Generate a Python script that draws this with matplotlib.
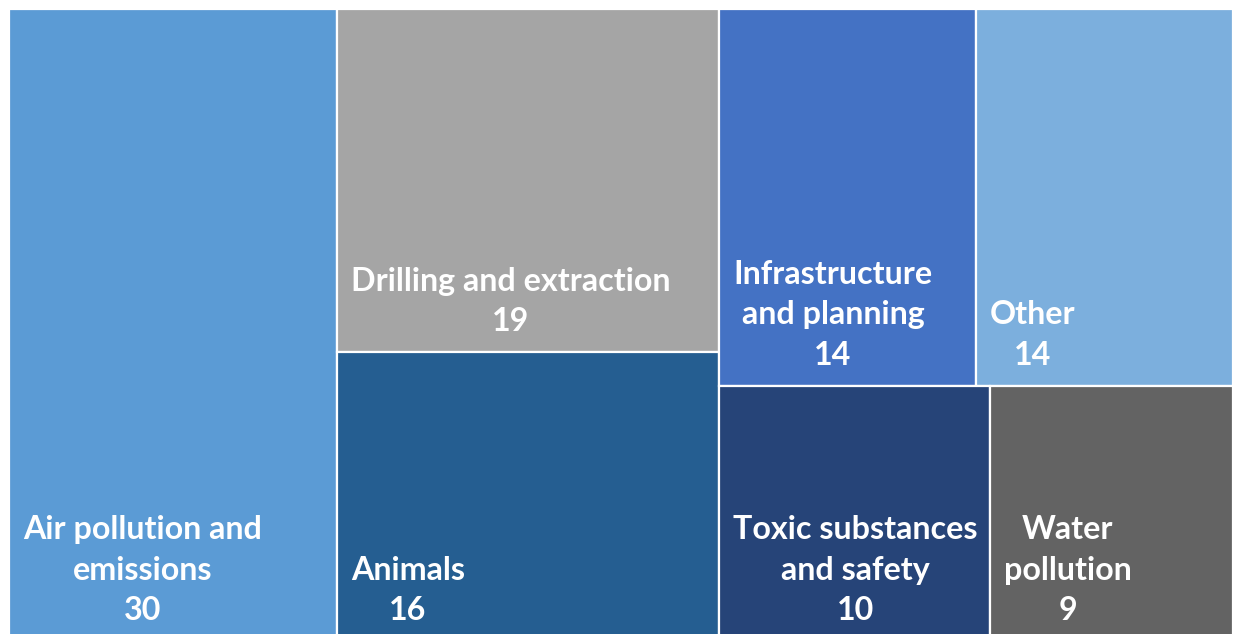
import matplotlib
matplotlib.use("Agg")
import matplotlib.pyplot as plt
from matplotlib.patches import Rectangle

categories = ["Air pollution and\nemissions", "Drilling and extraction", "Animals",
              "Infrastructure\nand planning", "Other", "Toxic substances\nand safety",
              "Water\npollution"]
values = [30, 19, 16, 14, 14, 10, 9]
colors = ["#5B9BD5", "#A5A5A5", "#255E91", "#4472C4", "#7CAFDD", "#264478", "#636363"]

W, H = 1224.0, 632.0


def worst(row, side, scale):
    s = sum(row) * scale
    thick = s / side
    return max(max(thick / (v * scale / thick), (v * scale / thick) / thick) for v in row)


def squarify(vals, x, y, w, h):
    total = sum(vals)
    scale = w * h / total
    rects = []
    vals = list(vals)
    while vals:
        side = min(w, h)
        row = [vals.pop(0)]
        while vals and worst(row + [vals[0]], side, scale) <= worst(row, side, scale):
            row.append(vals.pop(0))
        area = sum(row) * scale
        if w >= h:  # vertical column on the left
            cw = area / h
            yy = y
            for v in row:
                rh = v * scale / cw
                rects.append((x, yy, cw, rh))
                yy += rh
            x += cw
            w -= cw
        else:  # horizontal row on top
            rh = area / w
            xx = x
            for v in row:
                cw = v * scale / rh
                rects.append((xx, y, cw, rh))
                xx += cw
            y += rh
            h -= rh
    return rects


fig = plt.figure(figsize=(12.35, 6.34), dpi=100)
ax = fig.add_axes([9 / 1235, (634 - 9 - 632) / 634, 1224 / 1235, 632 / 634])
ax.set_xlim(0, W)
ax.set_ylim(H, 0)
ax.axis("off")

rects = squarify(values, 0, 0, W, H)
for (x, y, w, h), lab, v, c in zip(rects, categories, values, colors):
    ax.add_patch(Rectangle((x, y), w, h, facecolor=c, edgecolor="white", linewidth=1.6))
    ax.text(x + 14, y + h - 21, f"{lab}\n{v}", ha="left", va="baseline",
            multialignment="center", color="white", fontsize=23.2,
            fontfamily="Lato", fontweight="bold", linespacing=1.47)

fig.savefig("out.png", dpi=100)
